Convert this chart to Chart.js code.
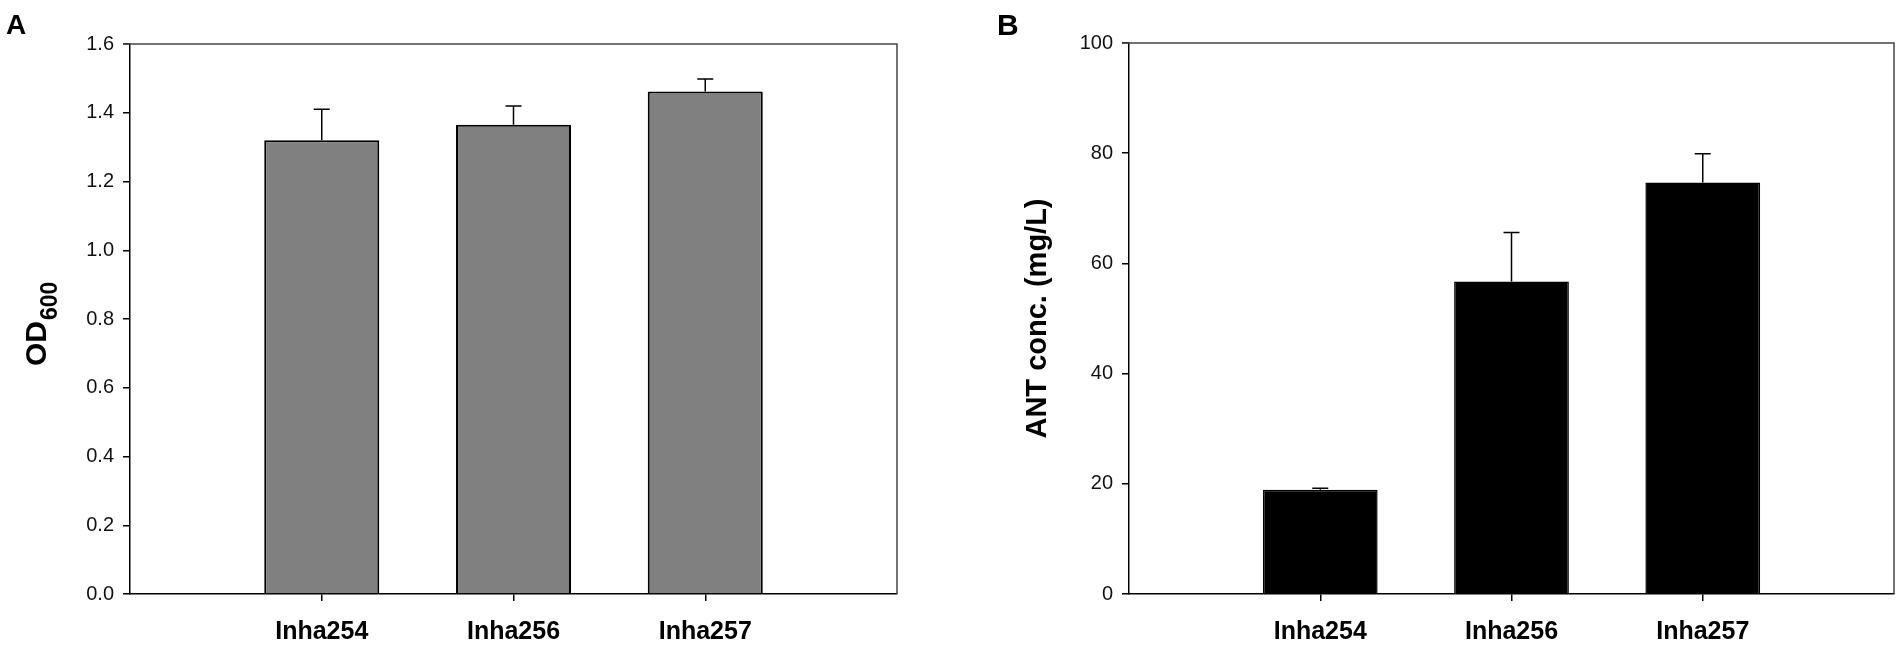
<!DOCTYPE html>
<html>
<head>
<meta charset="utf-8">
<script src="https://cdn.jsdelivr.net/npm/chart.js@4.4.1/dist/chart.umd.min.js"></script>
<style>
  body { margin: 0; background: #fff; }
  #wrap { position: relative; width: 1904px; height: 646px; overflow: hidden; font-family: "Liberation Sans", Arial, sans-serif; }
  .panel { position: absolute; top: 0; height: 646px; }
  #panelA { left: 0; width: 960px; }
  #panelB { left: 960px; width: 944px; }
  .tag { position: absolute; font-weight: bold; line-height: 1; color: #000; }
</style>
</head>
<body>
<div id="wrap">
  <div class="panel" id="panelA"><canvas id="chartA"></canvas></div>
  <div class="panel" id="panelB"><canvas id="chartB"></canvas></div>
  <div class="tag" style="left:6px; top:11px; font-size:28px;">A</div>
  <div class="tag" style="left:997px; top:10px; font-size:30px;">B</div>
</div>
<script>
// data
var categories = ["Inha254", "Inha256", "Inha257"];
var odValues = [1.32, 1.365, 1.462];
var odErrors = [0.09, 0.055, 0.036];
var antValues = [18.9, 56.7, 74.7];
var antErrors = [0.3, 8.9, 5.2];
var odAxis = [0, 1.6, 0.2];   // min, max, step
var antAxis = [0, 100, 20];

var FONT = "'Liberation Sans', Arial, sans-serif";

function toPoints(values) {
  return values.map(function (v, i) { return { x: i + 1, y: v }; });
}

// error bars (upper only) drawn through the chart scales
var errorBars = {
  id: "errorBars",
  afterDatasetsDraw: function (chart, args, opts) {
    var ctx = chart.ctx;
    var yScale = chart.scales.y;
    var meta = chart.getDatasetMeta(0);
    var values = chart.data.datasets[0].data;
    ctx.save();
    ctx.strokeStyle = "#000";
    ctx.lineWidth = 1.5;
    meta.data.forEach(function (bar, i) {
      var top = yScale.getPixelForValue(values[i].y + opts.errors[i]);
      ctx.beginPath();
      ctx.moveTo(bar.x, bar.y);
      ctx.lineTo(bar.x, top);
      ctx.moveTo(bar.x - 8, top);
      ctx.lineTo(bar.x + 8, top);
      ctx.stroke();
    });
    ctx.restore();
  }
};

// top and right frame lines
var frame = {
  id: "frame",
  afterDraw: function (chart) {
    var a = chart.chartArea, ctx = chart.ctx;
    ctx.save();
    ctx.strokeStyle = "#444";
    ctx.lineWidth = 1.5;
    ctx.beginPath();
    ctx.moveTo(a.left - 7, a.top);
    ctx.lineTo(a.right, a.top);
    ctx.lineTo(a.right, a.bottom);
    ctx.stroke();
    ctx.restore();
  }
};

// OD600 label with subscript
var odTitle = {
  id: "odTitle",
  afterDraw: function (chart) {
    var ctx = chart.ctx;
    ctx.save();
    ctx.fillStyle = "#000";
    ctx.translate(0, 366);
    ctx.rotate(-Math.PI / 2);
    ctx.textAlign = "left";
    ctx.textBaseline = "alphabetic";
    ctx.font = "bold 30px " + FONT;
    ctx.fillText("OD", 0, 46);
    var w = ctx.measureText("OD").width;
    ctx.font = "bold 23px " + FONT;
    ctx.fillText("600", w + 1, 57);
    ctx.restore();
  }
};

function makeConfig(values, errors, axis, bar, yTitle, yWidth, pad, decimals) {
  return {
    type: "bar",
    data: {
      datasets: [{
        data: toPoints(values),
        backgroundColor: bar.fill,
        borderColor: "#000",
        borderWidth: bar.border,
        categoryPercentage: 0.6,
        barPercentage: 1.0
      }]
    },
    options: {
      responsive: true,
      maintainAspectRatio: false,
      animation: false,
      events: [],
      layout: { padding: pad },
      plugins: {
        legend: { display: false },
        tooltip: { enabled: false },
        errorBars: { errors: errors }
      },
      scales: {
        x: {
          type: "linear",
          offset: false,
          min: 0,
          max: categories.length + 1,
          afterBuildTicks: function (scale) {
            scale.ticks = scale.ticks.filter(function (t) {
              return t.value >= 1 && t.value <= categories.length;
            });
          },
          afterFit: function (scale) { scale.height = 52; },
          ticks: {
            stepSize: 1,
            padding: 16,
            color: "#000",
            font: { family: FONT, size: 25, weight: "bold" },
            callback: function (v) { return categories[v - 1] || ""; }
          },
          grid: { display: true, offset: false, drawOnChartArea: false, tickLength: 7, color: "#000", lineWidth: 1.5 },
          border: { display: true, color: "#000", width: 1.5 }
        },
        y: {
          min: axis[0],
          max: axis[1],
          afterFit: function (scale) { scale.width = yWidth; },
          ticks: {
            stepSize: axis[2],
            padding: 9,
            color: "#111",
            font: { family: FONT, size: 20 },
            callback: function (v) { return v.toFixed(decimals); }
          },
          title: yTitle,
          grid: { display: true, drawOnChartArea: false, tickLength: 7, color: "#000", lineWidth: 1.5 },
          border: { display: true, color: "#000", width: 1.5 }
        }
      }
    },
    plugins: [errorBars, frame]
  };
}

var cfgA = makeConfig(odValues, odErrors, odAxis, { fill: "#808080", border: 2 },
  { display: false }, 130, { left: 0, top: 44, right: 63, bottom: 0 }, 1);
cfgA.plugins.push(odTitle);

var cfgB = makeConfig(antValues, antErrors, antAxis, { fill: "#000", border: 1.5 },
  {
    display: true,
    text: "ANT conc. (mg/L)",
    color: "#000",
    padding: { top: 61, bottom: 0 },
    font: { family: FONT, size: 29, weight: "bold", lineHeight: 1.2 }
  }, 169, { left: 0, top: 43, right: 10, bottom: 0 }, 0);

new Chart(document.getElementById("chartA"), cfgA);
new Chart(document.getElementById("chartB"), cfgB);
</script>
</body>
</html>
